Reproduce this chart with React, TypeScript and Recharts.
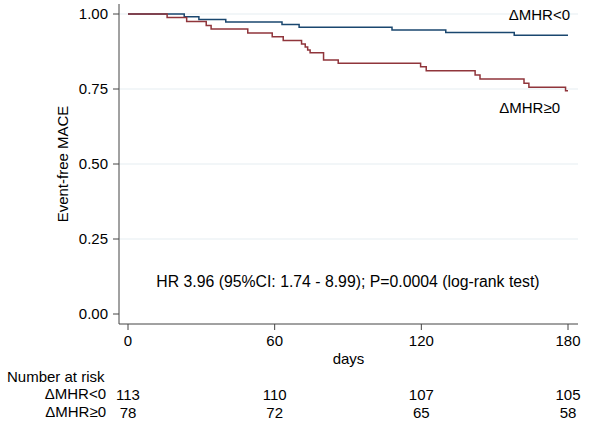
import { LineChart, Line, XAxis, YAxis, CartesianGrid, ReferenceDot, Label } from "recharts";

// Kaplan-Meier steps: [day, survival]
const negDays = [0, 23, 29, 40, 63, 70, 108, 130, 158, 180];
const negSurv = [1.0, 0.991, 0.982, 0.973, 0.965, 0.956, 0.947, 0.938, 0.929, 0.929];

const posDays = [0, 16, 24, 32, 34, 49, 59, 63.5, 71, 72.5, 73.5, 74.5, 80, 86, 119.7, 122, 142, 144, 162, 164, 179, 180];
const posSurv = [1.0, 0.988, 0.975, 0.962, 0.95, 0.937, 0.924, 0.912, 0.9, 0.89, 0.88, 0.871, 0.847, 0.836, 0.824, 0.811, 0.797, 0.783, 0.769, 0.756, 0.744, 0.744];

const xTicks = [0, 60, 120, 180];
const yTicks = [0, 0.25, 0.5, 0.75, 1.0];
const atRiskNeg = [113, 110, 107, 105];
const atRiskPos = [78, 72, 65, 58];

const groupNames = ["ΔMHR<0", "ΔMHR≥0"];
const hrText = "HR 3.96 (95%CI: 1.74 - 8.99); P=0.0004 (log-rank test)";

const negData = negDays.map((d, i) => ({ day: d, s: negSurv[i] }));
const posData = posDays.map((d, i) => ({ day: d, s: posSurv[i] }));

const NAVY = "#1a476f";
const MAROON = "#90353b";
const FONT = "'Liberation Sans', Arial, sans-serif";
const txt = { fontSize: 15, fill: "#000", fontFamily: FONT };

const riskLabel = (arr: number[]) => (v: number) => {
  const i = xTicks.indexOf(v);
  return i >= 0 ? String(arr[i]) : "";
};

export default function App() {
  return (
    <div style={{ position: "absolute", left: 0, top: 0, background: "#fff", fontFamily: FONT }}>
      <LineChart width={600} height={424} margin={{ top: 4, right: 22, bottom: 0, left: 59 }}>
        <CartesianGrid vertical={false} horizontalValues={[0.25, 0.5, 0.75, 1.0]} stroke="#e6eef1" strokeWidth={1.2} />
        <XAxis
          xAxisId="main"
          type="number"
          dataKey="day"
          domain={[0, 180]}
          ticks={xTicks}
          padding={{ left: 9, right: 10 }}
          height={44}
          tickSize={6}
          tickMargin={5}
          stroke="#444"
          tick={txt}
        >
          <Label value="days" position="insideBottom" offset={4} dx={0} style={txt} />
        </XAxis>
        <XAxis
          xAxisId="risk1"
          type="number"
          dataKey="day"
          domain={[0, 180]}
          allowDataOverflow
          ticks={xTicks}
          padding={{ left: 9, right: 10 }}
          height={28}
          axisLine={false}
          tickLine={false}
          tickSize={0}
          tickMargin={21}
          tick={txt}
          tickFormatter={riskLabel(atRiskNeg)}
        >
          <Label value="Number at risk" position="insideLeft" offset={-112} dy={-5} style={{ ...txt, textAnchor: "start" }} />
          <Label value={groupNames[0]} position="left" offset={13} dy={12} style={{ ...txt, textAnchor: "end" }} />
        </XAxis>
        <XAxis
          xAxisId="risk2"
          type="number"
          dataKey="day"
          domain={[0, 180]}
          allowDataOverflow
          ticks={xTicks}
          padding={{ left: 9, right: 10 }}
          height={28}
          axisLine={false}
          tickLine={false}
          tickSize={0}
          tickMargin={11}
          tick={txt}
          tickFormatter={riskLabel(atRiskPos)}
        >
          <Label value={groupNames[1]} position="left" offset={13} dy={2} style={{ ...txt, textAnchor: "end" }} />
        </XAxis>
        <YAxis
          type="number"
          domain={[0, 1]}
          ticks={yTicks}
          padding={{ top: 10, bottom: 10 }}
          width={60}
          tickSize={6}
          tickMargin={5}
          stroke="#444"
          tick={txt}
          tickFormatter={(v: number) => v.toFixed(2)}
        >
          <Label value="Event-free MACE" angle={-90} position="center" dx={-26} style={{ ...txt, textAnchor: "middle" }} />
        </YAxis>
        <Line
          xAxisId="main"
          data={negData}
          dataKey="s"
          type="stepAfter"
          stroke={NAVY}
          strokeWidth={1.5}
          dot={false}
          isAnimationActive={false}
        />
        <Line
          xAxisId="main"
          data={posData}
          dataKey="s"
          type="stepAfter"
          stroke={MAROON}
          strokeWidth={1.5}
          dot={false}
          isAnimationActive={false}
        />
        {/* invisible series so the at-risk axes get a data binding */}
        <Line xAxisId="risk1" data={negData} dataKey="s" stroke="none" dot={false} activeDot={false} isAnimationActive={false} />
        <Line xAxisId="risk2" data={posData} dataKey="s" stroke="none" dot={false} activeDot={false} isAnimationActive={false} />
        <ReferenceDot xAxisId="main" x={180} y={1.0} r={0} stroke="none" ifOverflow="visible"
          label={<Label value={groupNames[0]} position="left" offset={-2} dy={1} style={{ ...txt, textAnchor: "end" }} />} />
        <ReferenceDot xAxisId="main" x={180} y={0.687} r={0} stroke="none" ifOverflow="visible"
          label={<Label value={groupNames[1]} position="left" offset={8} style={{ ...txt, textAnchor: "end" }} />} />
        <ReferenceDot xAxisId="main" x={90} y={0.11} r={0} stroke="none" ifOverflow="visible"
          label={<Label value={hrText} position="center" style={{ ...txt, fontSize: 15.8, textAnchor: "middle" }} />} />
      </LineChart>
    </div>
  );
}
